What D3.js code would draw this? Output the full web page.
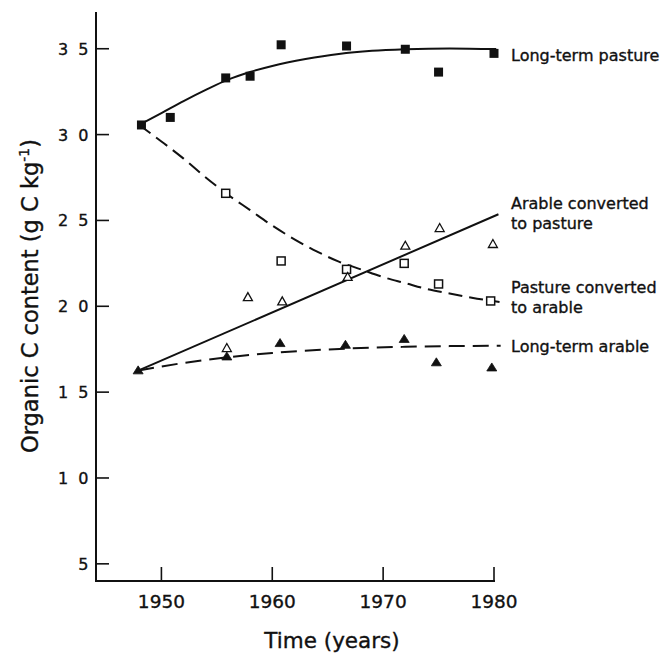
<!DOCTYPE html>
<html><head><meta charset="utf-8">
<script src="https://cdn.jsdelivr.net/npm/d3@7"></script>
<style>body{margin:0;background:#fff}svg{display:block}</style>
</head><body>
<svg id="c" width="670" height="654"></svg>
<script>
// ---- axis ticks ----
const xTicks = [1950, 1960, 1970, 1980];
const yTicks = [5, 10, 15, 20, 25, 30, 35];
const yTickLabels = ["5", "1 0", "1 5", "2 0", "2 5", "3 0", "3 5"];

// ---- observed points ----
const ltPastureYears = [1948.2, 1950.8, 1955.8, 1958.0, 1960.8, 1966.7, 1972.0, 1975.0, 1980.0];
const ltPastureVals  = [30.56, 31.0, 33.3, 33.4, 35.23, 35.16, 34.97, 33.64, 34.73];

const pasToArYears = [1955.8, 1960.8, 1966.7, 1971.9, 1975.0, 1979.7];
const pasToArVals  = [26.58, 22.64, 22.15, 22.5, 21.3, 20.31];

const arToPasYears = [1955.9, 1957.8, 1960.9, 1966.8, 1972.0, 1975.1, 1979.9];
const arToPasVals  = [17.55, 20.52, 20.27, 21.69, 23.51, 24.54, 23.61];

const ltArableYears = [1947.9, 1955.9, 1960.7, 1966.6, 1971.9, 1974.8, 1979.8];
const ltArableVals  = [16.25, 17.06, 17.84, 17.74, 18.08, 16.72, 16.42];

// ---- fitted curves ----
const fitPastureYears = [1948, 1950, 1952, 1954, 1956, 1958, 1960, 1963, 1966, 1969, 1972, 1976, 1980.2];
const fitPastureVals  = [30.56, 31.25, 31.95, 32.6, 33.2, 33.65, 34.0, 34.4, 34.7, 34.88, 34.97, 35.02, 34.98];

const fitPasToArYears = [1948, 1950, 1952, 1954, 1956, 1958, 1960, 1962, 1964, 1966, 1968, 1970, 1972, 1974, 1976, 1978, 1980.5];
const fitPasToArVals  = [30.56, 29.6, 28.6, 27.5, 26.5, 25.6, 24.7, 23.9, 23.2, 22.6, 22.15, 21.7, 21.35, 21.0, 20.75, 20.5, 20.25];

const fitArToPasYears = [1947.9, 1980.4];
const fitArToPasVals  = [16.25, 25.36];

const fitArableYears = [1947.9, 1952, 1956, 1960, 1964, 1968, 1972, 1976, 1980.6];
const fitArableVals  = [16.25, 16.7, 17.03, 17.28, 17.45, 17.57, 17.64, 17.68, 17.7];

// ---- labels (value at the first line's centre) ----
const seriesLabels = [
  {lines: ["Long-term pasture"], v: 34.63},
  {lines: ["Arable converted", "to pasture"], v: 26.01},
  {lines: ["Pasture converted", "to arable"], v: 21.12},
  {lines: ["Long-term arable"], v: 17.69}
];

const FONT = "DejaVu Sans, Liberation Sans, Arial, sans-serif";
const INK = "#111";
const svg = d3.select("#c");
const x = d3.scaleLinear().domain([1944.1, 1980]).range([96, 494]);
const y = d3.scaleLinear().domain([4, 37.14]).range([581, 12]);

const txt = sel => sel.attr("font-family", FONT).attr("fill", INK)
  .attr("stroke", INK).attr("stroke-width", 0.35);

// axes
const g = svg.append("g").attr("fill", "none").attr("stroke", INK).attr("stroke-width", 2);
g.append("line").attr("x1", x(1944.1)).attr("x2", x(1944.1)).attr("y1", y(37.14)).attr("y2", y(4) + 1);
g.append("line").attr("x1", x(1944.1) - 1).attr("x2", x(1980) + 1).attr("y1", y(4)).attr("y2", y(4));
g.selectAll(".yt").data(yTicks).join("line")
  .attr("x1", x(1944.1)).attr("x2", x(1944.1) + 13)
  .attr("y1", d => y(d)).attr("y2", d => y(d)).attr("stroke-width", 1.6);
g.selectAll(".xt").data(xTicks).join("line")
  .attr("x1", d => x(d)).attr("x2", d => x(d))
  .attr("y1", y(4)).attr("y2", y(4) - 14).attr("stroke-width", 1.6);

svg.selectAll(".ytl").data(yTicks).join("text")
  .attr("x", 91).attr("y", d => y(d) + 6)
  .attr("text-anchor", "end").attr("font-size", 16)
  .attr("letter-spacing", 2.5).call(txt)
  .text((d, i) => yTickLabels[i]);
svg.selectAll(".xtl").data(xTicks).join("text")
  .attr("x", d => x(d)).attr("y", 608)
  .attr("text-anchor", "middle").attr("font-size", 18.5).call(txt).text(d => d);

svg.append("text").attr("x", 332).attr("y", 648).attr("text-anchor", "middle")
  .attr("font-size", 21.5).call(txt).text("Time (years)");
const yt = svg.append("text").attr("transform", "translate(38,296) rotate(-90)")
  .attr("text-anchor", "middle").attr("font-size", 22.5).call(txt);
yt.append("tspan").text("Organic C content (g C kg");
yt.append("tspan").attr("font-size", 14).attr("dy", -9).text("-1");
yt.append("tspan").attr("dy", 9).text(")");

// curves
const line = d3.line().x(d => x(d[0])).y(d => y(d[1])).curve(d3.curveMonotoneX);
const zip = (a, b) => a.map((v, i) => [v, b[i]]);
const cg = svg.append("g").attr("fill", "none").attr("stroke", INK).attr("stroke-width", 2);
cg.append("path").attr("d", line(zip(fitPastureYears, fitPastureVals)));
cg.append("path").attr("d", line(zip(fitPasToArYears, fitPasToArVals))).attr("stroke-dasharray", "14,7");
cg.append("path").attr("d", line(zip(fitArToPasYears, fitArToPasVals)));
cg.append("path").attr("d", line(zip(fitArableYears, fitArableVals))).attr("stroke-dasharray", "16,8");

// markers
const mg = svg.append("g");
const sq = (data, filled, s) => mg.append("g").selectAll("rect").data(data).join("rect")
  .attr("x", d => x(d[0]) - s / 2).attr("y", d => y(d[1]) - s / 2)
  .attr("width", s).attr("height", s)
  .attr("fill", filled ? INK : "#fff").attr("stroke", INK).attr("stroke-width", filled ? 0 : 1.5);
const tri = (data, filled, w, h) => mg.append("g").selectAll("path").data(data).join("path")
  .attr("d", d => { const cx = x(d[0]), cy = y(d[1]);
    return `M${cx},${cy - h * 0.6}L${cx + w / 2},${cy + h * 0.4}L${cx - w / 2},${cy + h * 0.4}Z`; })
  .attr("fill", filled ? INK : "#fff").attr("stroke", INK).attr("stroke-width", filled ? 0.8 : 1.3);

sq(zip(pasToArYears, pasToArVals), false, 8);
tri(zip(arToPasYears, arToPasVals), false, 9, 8);
tri(zip(ltArableYears, ltArableVals), true, 10, 8);
sq(zip(ltPastureYears, ltPastureVals), true, 9);

// series labels
seriesLabels.forEach(L => {
  const t = svg.append("text").attr("x", 511).attr("font-size", 16).call(txt);
  L.lines.forEach((s, i) => t.append("tspan").attr("x", 511).attr("y", y(L.v) + 6 + i * 20).text(s));
});
</script>
</body></html>
